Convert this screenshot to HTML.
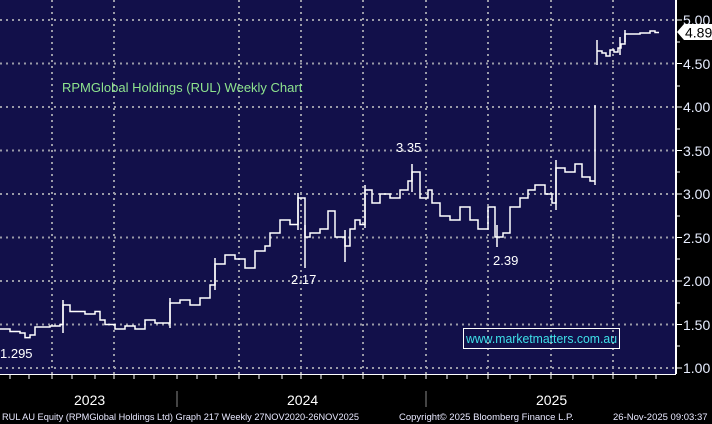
<!DOCTYPE html>
<html><head><meta charset="utf-8"><style>
body{margin:0;background:#000;}
svg{display:block;font-family:"Liberation Sans",sans-serif;}
</style></head><body>
<svg width="712" height="424" viewBox="0 0 712 424">
<rect x="0" y="0" width="712" height="424" fill="#000"/>
<rect x="0" y="0" width="676" height="374" fill="#12104a"/>
<g stroke="#9a9aa8" stroke-width="2" stroke-dasharray="2,4">
<line x1="0" y1="20" x2="676" y2="20"/><line x1="0" y1="63.5" x2="676" y2="63.5"/>
<line x1="0" y1="107" x2="676" y2="107"/><line x1="0" y1="150.5" x2="676" y2="150.5"/>
<line x1="0" y1="194" x2="676" y2="194"/><line x1="0" y1="237.5" x2="676" y2="237.5"/>
<line x1="0" y1="281" x2="676" y2="281"/><line x1="0" y1="324.5" x2="676" y2="324.5"/>
<line x1="0" y1="368" x2="676" y2="368"/>
<line x1="52" y1="0" x2="52" y2="374"/><line x1="114" y1="0" x2="114" y2="374"/>
<line x1="239" y1="0" x2="239" y2="374"/><line x1="301" y1="0" x2="301" y2="374"/>
<line x1="363" y1="0" x2="363" y2="374"/><line x1="426" y1="0" x2="426" y2="374"/>
<line x1="488" y1="0" x2="488" y2="374"/><line x1="551" y1="0" x2="551" y2="374"/>
<line x1="613" y1="0" x2="613" y2="374"/>
</g>
<line x1="676" y1="0" x2="676" y2="374" stroke="#fff" stroke-width="2"/>
<line x1="0" y1="374.5" x2="676" y2="374.5" stroke="#fff" stroke-width="1"/>
<g stroke="#fff" stroke-width="1">
<line x1="10" y1="375" x2="10" y2="379"/><line x1="29" y1="375" x2="29" y2="379"/><line x1="52" y1="375" x2="52" y2="379"/><line x1="72" y1="375" x2="72" y2="379"/><line x1="95" y1="375" x2="95" y2="379"/><line x1="114" y1="375" x2="114" y2="379"/><line x1="134" y1="375" x2="134" y2="379"/><line x1="154" y1="375" x2="154" y2="379"/><line x1="177" y1="375" x2="177" y2="379"/><line x1="197" y1="375" x2="197" y2="379"/><line x1="216" y1="375" x2="216" y2="379"/><line x1="239" y1="375" x2="239" y2="379"/><line x1="259" y1="375" x2="259" y2="379"/><line x1="282" y1="375" x2="282" y2="379"/><line x1="301" y1="375" x2="301" y2="379"/><line x1="321" y1="375" x2="321" y2="379"/><line x1="343" y1="375" x2="343" y2="379"/><line x1="363" y1="375" x2="363" y2="379"/><line x1="383" y1="375" x2="383" y2="379"/><line x1="405" y1="375" x2="405" y2="379"/><line x1="426" y1="375" x2="426" y2="379"/><line x1="447" y1="375" x2="447" y2="379"/><line x1="467" y1="375" x2="467" y2="379"/><line x1="488" y1="375" x2="488" y2="379"/><line x1="510" y1="375" x2="510" y2="379"/><line x1="530" y1="375" x2="530" y2="379"/><line x1="551" y1="375" x2="551" y2="379"/><line x1="573" y1="375" x2="573" y2="379"/><line x1="593" y1="375" x2="593" y2="379"/><line x1="613" y1="375" x2="613" y2="379"/><line x1="636" y1="375" x2="636" y2="379"/><line x1="656" y1="375" x2="656" y2="379"/>
<line x1="177" y1="391" x2="177" y2="407" stroke="#888"/><line x1="426" y1="391" x2="426" y2="407" stroke="#888"/>
<line x1="676" y1="20" x2="682" y2="20"/><line x1="676" y1="63.5" x2="682" y2="63.5"/><line x1="676" y1="107" x2="682" y2="107"/><line x1="676" y1="150.5" x2="682" y2="150.5"/><line x1="676" y1="194" x2="682" y2="194"/><line x1="676" y1="237.5" x2="682" y2="237.5"/><line x1="676" y1="281" x2="682" y2="281"/><line x1="676" y1="324.5" x2="682" y2="324.5"/><line x1="676" y1="368" x2="682" y2="368"/>
<line x1="676" y1="42" x2="680" y2="42"/><line x1="676" y1="86" x2="680" y2="86"/><line x1="676" y1="129" x2="680" y2="129"/><line x1="676" y1="172" x2="680" y2="172"/><line x1="676" y1="216" x2="680" y2="216"/><line x1="676" y1="259" x2="680" y2="259"/><line x1="676" y1="303" x2="680" y2="303"/><line x1="676" y1="346" x2="680" y2="346"/>
</g>
<path fill="none" stroke="#fff" stroke-width="1.5" d="M0 329 H10 V331.5 H20 V333 H25 V337.6 H30 V335 H35 V327 H50 V326 H60 V324.5 H63 V305 H70 V311.5 H85 V314 H95 V311.5 H100 V320 H105 V324.5 H115 V329 H125 V326 H135 V329 H145 V320 H155 V323 H165 V323 H170 V303 H180 V300 H190 V305 H200 V298 H210 V285 H215 V264 H225 V255 H235 V259 H245 V268 H255 V251 H265 V246 H270 V233 H280 V220 H290 V224.5 H298 V198 H305 V237 H310 V233 H320 V229 H328 V211 H335 V237 H345 V246 H350 V229 H355 V220 H360 V224.5 H365 V190 H372 V203 H380 V194 H390 V198 H400 V190 H408 V181 H412 V172 H420 V198 H428 V190 H432 V203 H440 V216 H450 V220 H460 V207 H470 V220 H478 V229 H488 V207 H495 V237 H503 V233 H510 V207 H520 V198 H528 V190 H535 V185 H545 V194 H552 V203 H556 V168 H565 V172 H575 V164 H582 V177 H590 V181 H595"/>
<g stroke="#fff" stroke-width="1.5">
<line x1="63" y1="300" x2="63" y2="333"/><line x1="170" y1="298" x2="170" y2="328"/><line x1="215" y1="258" x2="215" y2="290"/>
<line x1="298" y1="193" x2="298" y2="230"/><line x1="305" y1="225" x2="305" y2="268"/><line x1="345" y1="230" x2="345" y2="262"/>
<line x1="365" y1="185" x2="365" y2="228"/><line x1="412" y1="164" x2="412" y2="192"/><line x1="497" y1="225" x2="497" y2="247"/>
<line x1="556" y1="160" x2="556" y2="210"/><line x1="595" y1="105" x2="595" y2="185"/>
<line x1="597" y1="40" x2="597" y2="65"/><line x1="620" y1="37" x2="620" y2="55"/><line x1="625" y1="30" x2="625" y2="42"/>
</g>
<path fill="none" stroke="#fff" stroke-width="1.5" d="M597 51 H602 V53 H606 V56 H610 V50 H614 V52 H618 V48 H621 V44 H625 V34 H640 V33 H650 V31 H655 V32.5 H659"/>
<g font-size="13" fill="#fff">
<text x="0" y="358">1.295</text><text x="291" y="284">2.17</text><text x="396" y="152">3.35</text><text x="493" y="265">2.39</text>
</g>
<text x="62" y="92" font-size="13" fill="#8ee38e">RPMGlobal Holdings (RUL) Weekly Chart</text>
<rect x="463.5" y="328.5" width="156" height="20" fill="none" stroke="#fff" stroke-width="1"/>
<text x="466" y="343" font-size="13" fill="#3ee0e8" textLength="151" lengthAdjust="spacingAndGlyphs">www.marketmatters.com.au</text>
<g font-size="14" fill="#e8eeff">
<text x="683" y="25">5.00</text><text x="683" y="69">4.50</text><text x="683" y="112">4.00</text><text x="683" y="156">3.50</text><text x="683" y="199">3.00</text><text x="683" y="243">2.50</text><text x="683" y="286">2.00</text><text x="683" y="330">1.50</text><text x="683" y="373">1.00</text>
</g>
<path d="M677 32 L684 24 H712 V40 H684 Z" fill="#fff"/>
<text x="685" y="37.5" font-size="14" fill="#000">4.89</text>
<g font-size="14" fill="#fff">
<text x="74" y="405">2023</text><text x="287" y="405">2024</text><text x="536" y="405">2025</text>
</g>
<g font-size="9.5" fill="#e8e8ff">
<text x="2" y="420" textLength="357" lengthAdjust="spacingAndGlyphs">RUL AU Equity (RPMGlobal Holdings Ltd) Graph 217 Weekly 27NOV2020-26NOV2025</text>
<text x="399" y="420">Copyright© 2025 Bloomberg Finance L.P.</text>
<text x="613" y="420">26-Nov-2025 09:03:37</text>
</g>
</svg>
</body></html>
